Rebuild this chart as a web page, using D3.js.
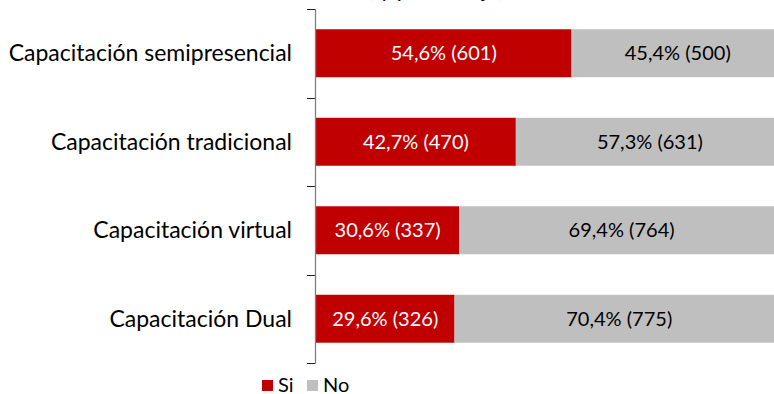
<!DOCTYPE html>
<html lang="es">
<head>
<meta charset="UTF-8">
<title>Capacitación</title>
<script src="https://cdnjs.cloudflare.com/ajax/libs/d3/7.8.5/d3.min.js"></script>
<style>
  body { margin: 0; background: #fff; }
  svg text { font-family: Lato, "Noto Sans", sans-serif; }
</style>
</head>
<body>
<div id="chart"></div>
<script>
// data
var categories = ["Capacitación semipresencial", "Capacitación tradicional", "Capacitación virtual", "Capacitación Dual"];
var siPct = [54.6, 42.7, 30.6, 29.6];
var siN = [601, 470, 337, 326];
var noPct = [45.4, 57.3, 69.4, 70.4];
var noN = [500, 631, 764, 775];
var series = ["Si", "No"];

var width = 774, height = 394;
var colors = {Si: "#C00000", No: "#BFBFBF"};

var svg = d3.select("#chart").append("svg")
    .attr("width", width)
    .attr("height", height);

// title is cut off at the top of the picture, only descenders show
svg.append("text")
    .attr("x", 264)
    .attr("y", -3)
    .style("font-size", "22px")
    .attr("fill", "#000")
    .text("(frecuencia) y porcentaje)");

var x = d3.scaleLinear().domain([0, 100]).range([316, 784]);
var y = d3.scaleBand().domain(categories).range([9, 363]).paddingInner(0.458).paddingOuter(0.229);

var rows = categories.map(function(c, i) {
    return {cat: c, si: siPct[i], siN: siN[i], no: noPct[i], noN: noN[i]};
});

var fmt = function(v) { return d3.format(".1f")(v).replace(".", ","); };

var g = svg.selectAll(".row").data(rows).enter().append("g").attr("class", "row");

g.append("rect")
    .attr("x", x(0))
    .attr("y", function(d) { return y(d.cat); })
    .attr("width", function(d) { return x(d.si) - x(0); })
    .attr("height", y.bandwidth())
    .attr("fill", colors.Si);

g.append("rect")
    .attr("x", function(d) { return x(d.si); })
    .attr("y", function(d) { return y(d.cat); })
    .attr("width", function(d) { return x(d.si + d.no) - x(d.si); })
    .attr("height", y.bandwidth())
    .attr("fill", colors.No);

g.append("text")
    .attr("x", function(d) { return (x(0) + x(d.si)) / 2; })
    .attr("y", function(d) { return y(d.cat) + y.bandwidth() / 2; })
    .attr("dy", "0.35em")
    .attr("text-anchor", "middle")
    .attr("fill", "#fff")
    .style("font-size", "20px")
    .text(function(d) { return fmt(d.si) + "% (" + d.siN + ")"; });

g.append("text")
    .attr("x", function(d) { return (x(d.si) + x(d.si + d.no)) / 2; })
    .attr("y", function(d) { return y(d.cat) + y.bandwidth() / 2; })
    .attr("dy", "0.35em")
    .attr("text-anchor", "middle")
    .attr("fill", "#000")
    .style("font-size", "20px")
    .text(function(d) { return fmt(d.no) + "% (" + d.noN + ")"; });

// category labels
g.append("text")
    .attr("x", 292)
    .attr("y", function(d) { return y(d.cat) + y.bandwidth() / 2; })
    .attr("dy", "0.35em")
    .attr("text-anchor", "end")
    .attr("fill", "#000")
    .style("font-size", "23px")
    .text(function(d) { return d.cat; });

// axis: vertical line with ticks between bands
var tickYs = [9].concat(categories.map(function(c) { return y(c) + y.bandwidth() + (y.step() - y.bandwidth()) / 2; }));
svg.selectAll(".tick").data(tickYs).enter().append("line")
    .attr("x1", 307).attr("x2", 315.5)
    .attr("y1", function(d) { return Math.round(d) + 0.5; })
    .attr("y2", function(d) { return Math.round(d) + 0.5; })
    .attr("stroke", "#222").attr("stroke-width", 1);

svg.append("line")
    .attr("x1", 315.5).attr("x2", 315.5)
    .attr("y1", 9).attr("y2", 363)
    .attr("stroke", "#7f7f7f").attr("stroke-width", 1.3);

// legend
var legX = [262, 307];
var leg = svg.selectAll(".leg").data(series).enter().append("g")
    .attr("transform", function(d, i) { return "translate(" + legX[i] + ",380)"; });
leg.append("rect").attr("width", 11).attr("height", 11)
    .attr("fill", function(d) { return colors[d]; });
leg.append("text").attr("x", 16).attr("y", 12)
    .style("font-size", "20px")
    .attr("fill", "#000")
    .text(function(d) { return d; });
</script>
</body>
</html>
